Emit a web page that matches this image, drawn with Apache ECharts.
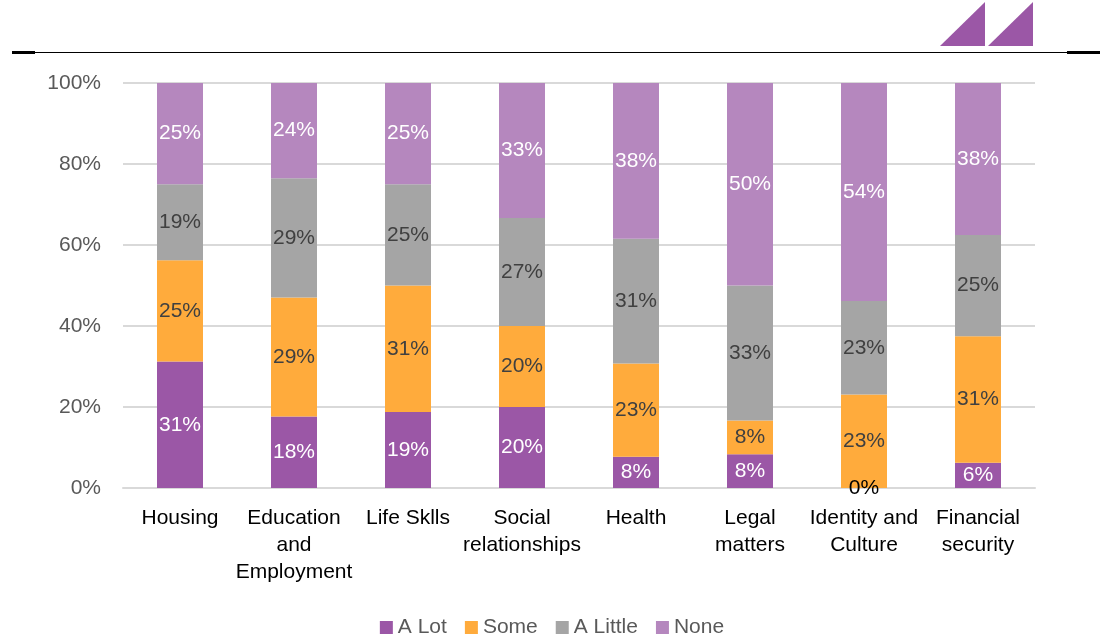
<!DOCTYPE html>
<html>
<head>
<meta charset="utf-8">
<script src="https://cdn.jsdelivr.net/npm/echarts@6/dist/echarts.min.js"></script>
<style>
html,body{margin:0;padding:0;background:#fff;}
#c{width:1104px;height:634px;}
</style>
</head>
<body>
<div id="c"></div>
<script>
const categories = ['Housing', 'Education\nand\nEmployment', 'Life Sklls', 'Social\nrelationships', 'Health', 'Legal\nmatters', 'Identity and\nCulture', 'Financial\nsecurity'];
const seriesNames = ['A Lot', 'Some', 'A Little', 'None'];
const aLot    = [31.25, 17.65, 18.75, 20,    7.69,  8.33,  0,     6.25];
const some    = [25,    29.41, 31.25, 20,    23.08, 8.33,  23.08, 31.25];
const aLittle = [18.75, 29.41, 25,    26.67, 30.77, 33.33, 23.08, 25];
const none    = [25,    23.53, 25,    33.33, 38.46, 50,    53.85, 37.5];
const yTicks = [0, 20, 40, 60, 80, 100];

const FONT = '"Liberation Sans", Arial, sans-serif';
const FS = 21;
const colors = ['#9B57A6', '#FFAB3C', '#A5A5A5', '#B587BE'];
const labelColors = ['#FFFFFF', '#404040', '#404040', '#FFFFFF'];
const allData = [aLot, some, aLittle, none];

const chart = echarts.init(document.getElementById('c'), null, {renderer: 'canvas'});

const series = allData.map((arr, i) => ({
  name: seriesNames[i],
  type: 'bar',
  stack: 'total',
  barWidth: 46,
  itemStyle: {color: colors[i]},
  label: {
    show: true,
    position: 'inside',
    fontFamily: FONT,
    fontSize: FS,
    color: labelColors[i],
    formatter: p => Math.round(p.value) + '%'
  },
  data: arr.map(v => v === 0 ? {value: v, label: {color: '#000000'}} : v)
}));

chart.setOption({
  animation: false,
  color: colors,
  textStyle: {fontFamily: FONT},
  grid: {left: 123, right: 69, top: 83, bottom: 146, containLabel: false},
  legend: {
    top: 612,
    left: 'center',
    itemWidth: 13,
    itemHeight: 13,
    itemGap: 18,
    icon: 'rect',
    textStyle: {fontFamily: FONT, fontSize: FS, color: '#595959'},
    data: seriesNames
  },
  xAxis: {
    type: 'category',
    data: categories,
    axisLine: {lineStyle: {color: '#D9D9D9', width: 2}},
    axisTick: {show: false},
    axisLabel: {fontFamily: FONT, fontSize: FS, color: '#000000', lineHeight: 27, margin: 17, interval: 0}
  },
  yAxis: {
    type: 'value',
    min: yTicks[0],
    max: yTicks[yTicks.length - 1],
    interval: 20,
    axisLine: {show: false},
    axisTick: {show: false},
    splitLine: {lineStyle: {color: '#D9D9D9', width: 2}},
    axisLabel: {fontFamily: FONT, fontSize: FS, color: '#595959', margin: 22, formatter: v => v + '%'}
  },
  series: series,
  graphic: [
    {type: 'rect', shape: {x: 12, y: 52, width: 1088, height: 1}, style: {fill: '#000'}},
    {type: 'rect', shape: {x: 12, y: 51, width: 23, height: 3}, style: {fill: '#000'}},
    {type: 'rect', shape: {x: 1067, y: 51, width: 33, height: 3}, style: {fill: '#000'}},
    {type: 'polygon', shape: {points: [[940, 46], [985, 2], [985, 46]]}, style: {fill: '#9B57A6'}},
    {type: 'polygon', shape: {points: [[988, 46], [1033, 2], [1033, 46]]}, style: {fill: '#9B57A6'}}
  ]
});
</script>
</body>
</html>
